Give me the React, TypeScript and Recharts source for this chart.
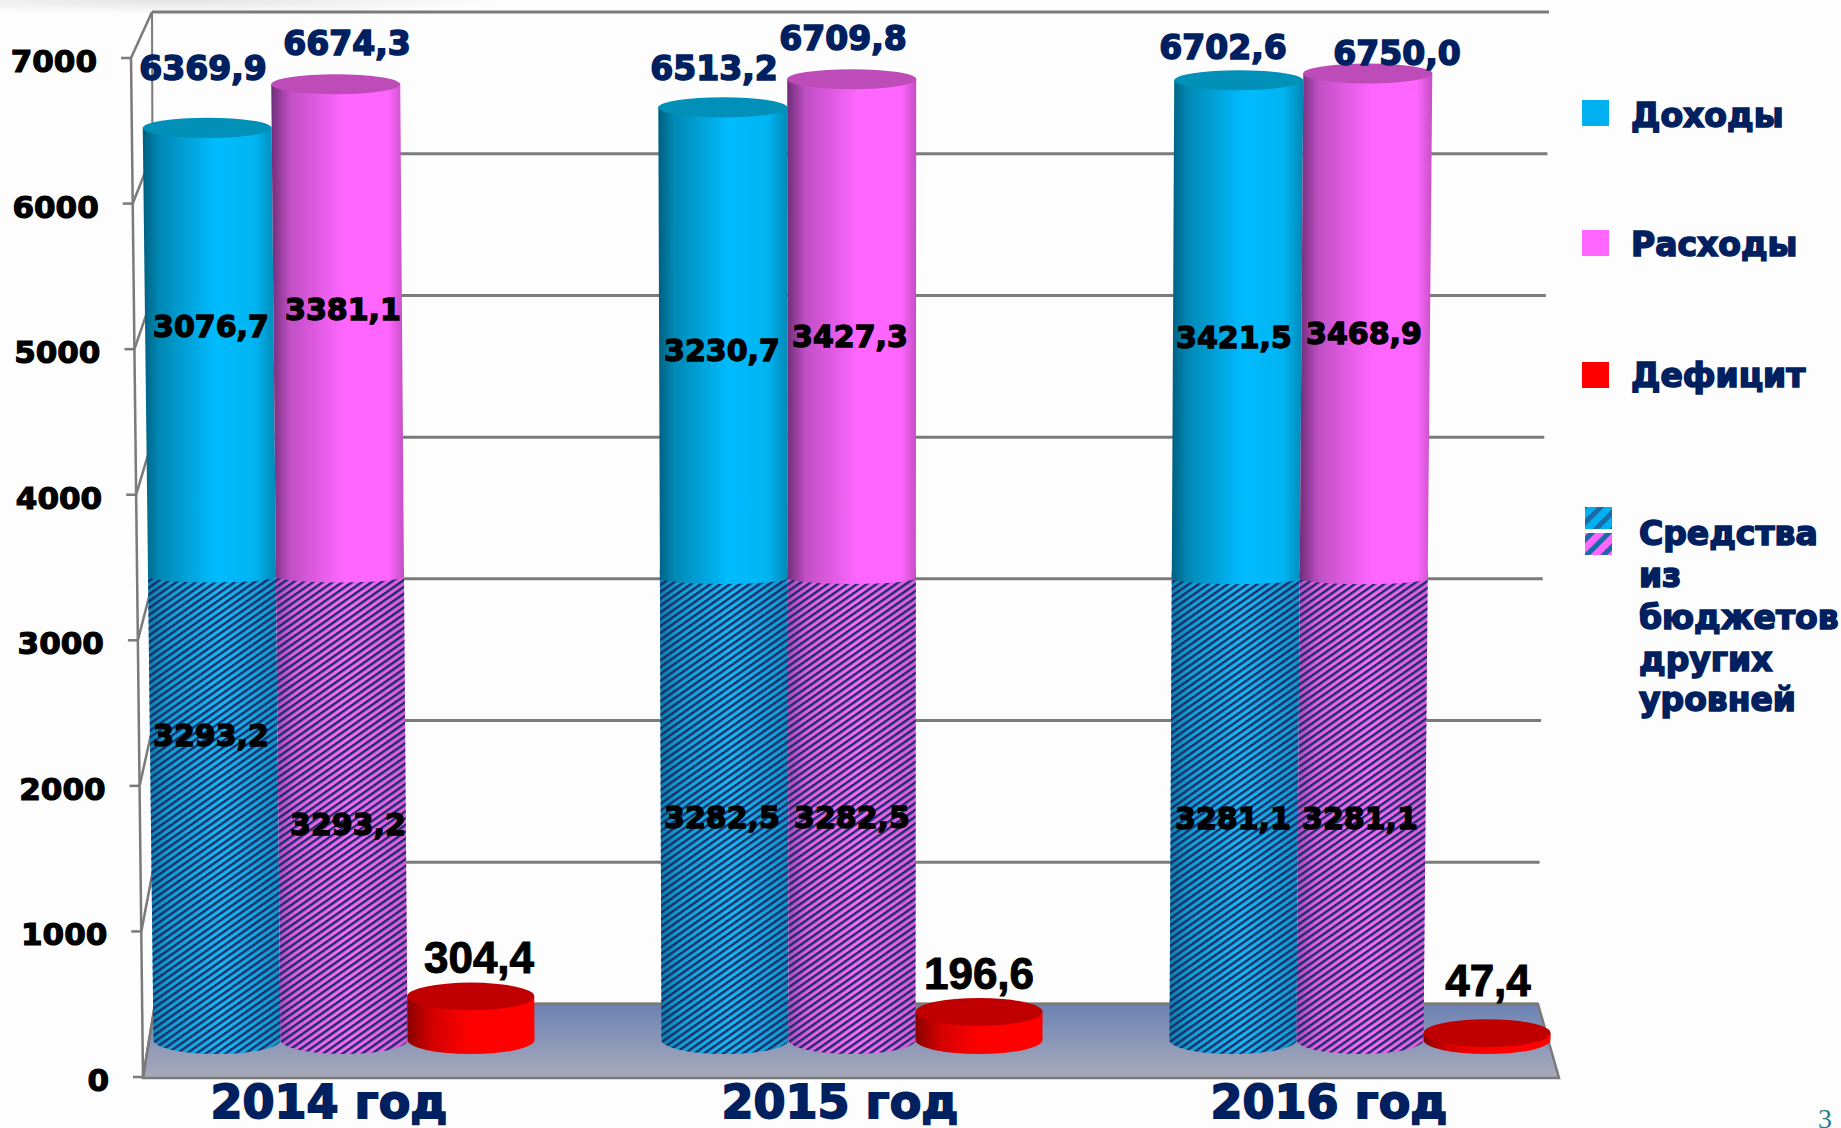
import { Bar, BarChart, LabelList, XAxis, YAxis } from 'recharts';

const years = ['2014 год', '2015 год', '2016 год'];
const incomeTransfers = [3293.2, 3282.5, 3281.1];
const incomeOwn = [3076.7, 3230.7, 3421.5];
const incomeTotal = [6369.9, 6513.2, 6702.6];
const expenseTransfers = [3293.2, 3282.5, 3281.1];
const expenseOwn = [3381.1, 3427.3, 3468.9];
const expenseTotal = [6674.3, 6709.8, 6750.0];
const deficit = [304.4, 196.6, 47.4];
const axisTicks = [0, 1000, 2000, 3000, 4000, 5000, 6000, 7000];

const legendItems = ['Доходы', 'Расходы', 'Дефицит'];
const legendNote = ['Средства', 'из', 'бюджетов', 'других', 'уровней'];

const data = years.map((year, i) => ({
  year,
  incomeTransfers: incomeTransfers[i],
  incomeOwn: incomeOwn[i],
  incomeTotal: incomeTotal[i],
  expenseTransfers: expenseTransfers[i],
  expenseOwn: expenseOwn[i],
  expenseTotal: expenseTotal[i],
  deficit: deficit[i],
}));

const NAVY = '#002060';
const LINE = '#7a7a7a';
const HEAVY = 'DejaVu Sans';

// the picture is a fake 3D one: the front axis, back wall and bars each have their own scale
const BASE_Y = 1040;
const frontX = (v: number) => 143 - (12 * v) / 7000;
const frontY = (v: number) => 1077 - (1019 * v) / 7000;
const backY = (v: number) => 1004 - (992 * v) / 7000;
const backLeft = (v: number) => 155 - (3 * v) / 7000;
const backRight = (v: number) => 1538 + (11 * v) / 7000;

const persp = (x: number, y: number) => 870 + (x - 870) * (1 + 1.645e-5 * (BASE_Y - y));
const capRy = (y: number) => 14 - (4 * (BASE_Y - y)) / 960;

const Cylinder = ({ x, y, width, height, body, cap, hatch, upper }: any) => {
  const top = y;
  // upper sections hang over the hatched part with a shallow curve
  const bottom = y + height + (upper ? 8 : 0);
  const ry = upper ? 6 : capRy(bottom);
  const xl = persp(x, top);
  const xr = persp(x + width, top);
  const bl = persp(x, bottom);
  const br = persp(x + width, bottom);
  const d = `M${xl},${top} L${xr},${top} L${br},${bottom} A${(br - bl) / 2},${ry} 0 0 1 ${bl},${bottom} Z`;
  return (
    <g>
      <path d={d} fill={`url(#${body})`} />
      {hatch && <path d={d} fill="url(#hatch)" />}
      {cap && <ellipse cx={(xl + xr) / 2} cy={top} rx={(xr - xl) / 2} ry={capRy(top)} fill={cap} />}
    </g>
  );
};

const fmt = (v: number) => v.toFixed(1).replace('.', ',');

const makeLabel =
  (shifts: number[][], font: any) =>
  ({ x, y, width, height, value, index }: any) => {
    const [dx, dy] = shifts[index];
    const anchorY = font.onTop ? y : y + height / 2;
    return (
      <text
        x={x + width / 2 + dx}
        y={anchorY + dy}
        textAnchor="middle"
        dominantBaseline="central"
        fontFamily={font.family}
        fontWeight="bold"
        fontSize={font.size}
        fill={font.color}
        stroke={font.color}
        strokeWidth={font.stroke}
      >
        {fmt(value)}
      </text>
    );
  };

const midFont = { family: HEAVY, size: 30, color: '#000', stroke: 1.4 };
const totalFont = { family: HEAVY, size: 33, color: NAVY, stroke: 1.6, onTop: true };
const deficitFont = { family: 'Liberation Sans', size: 44, color: '#000', stroke: 1, onTop: true };

const FrontTick = ({ y, payload }: any) => {
  const v = payload.value;
  const xf = frontX(v);
  return (
    <g>
      <line x1={xf - 10} y1={y} x2={xf} y2={y} stroke={LINE} strokeWidth={2.5} />
      <text
        x={xf - 34}
        y={y + 3}
        textAnchor="end"
        dominantBaseline="central"
        fontFamily={HEAVY}
        fontWeight="bold"
        fontSize={31}
        fill="#000"
        stroke="#000"
        strokeWidth={1.2}
      >
        {v}
      </text>
    </g>
  );
};

const yearCenters = [329, 840, 1329];
const YearTick = ({ index, payload }: any) => (
  <text
    x={yearCenters[index]}
    y={1102}
    textAnchor="middle"
    dominantBaseline="central"
    fontFamily={HEAVY}
    fontWeight="bold"
    fontSize={46}
    fill={NAVY}
    stroke={NAVY}
    strokeWidth={1.8}
  >
    {payload.value}
  </text>
);

const Stops = ({ id, stops }: { id: string; stops: [number, string][] }) => (
  <linearGradient id={id} x1="0" y1="0" x2="1" y2="0">
    {stops.map(([o, c]) => (
      <stop key={o} offset={o} stopColor={c} />
    ))}
  </linearGradient>
);

const Defs = () => (
  <defs>
    <Stops id="blueBody" stops={[[0, '#005f80'], [0.12, '#0088b4'], [0.55, '#00bcff'], [0.85, '#00b4f0'], [1, '#0088b4']]} />
    <Stops id="pinkBody" stops={[[0, '#6f2d78'], [0.14, '#c04fc4'], [0.55, '#ff66ff'], [0.88, '#ff66ff'], [1, '#c44fc4']]} />
    <Stops id="blueHatched" stops={[[0, '#0a7fa8'], [0.15, '#10a0d0'], [0.55, '#19b8f0'], [1, '#1098cc']]} />
    <Stops id="pinkHatched" stops={[[0, '#b04cc0'], [0.15, '#e060e0'], [0.55, '#f56cf5'], [1, '#d85cd8']]} />
    <Stops id="redBody" stops={[[0, '#8a0000'], [0.2, '#d40000'], [0.5, '#ff0000'], [1, '#ff0000']]} />
    <pattern id="hatch" width="5.6" height="5.6" patternUnits="userSpaceOnUse" patternTransform="rotate(-35)">
      <rect width="5.6" height="2.4" fill="#1a2c6c" />
    </pattern>
    <pattern id="hatchBig" width="12" height="12" patternUnits="userSpaceOnUse" patternTransform="rotate(-45)">
      <rect width="12" height="5" fill="#1a6aa8" />
    </pattern>
    <linearGradient id="floor" x1="0" y1="0" x2="0" y2="1">
      <stop offset="0" stopColor="#6c82b4" />
      <stop offset="1" stopColor="#a8aaba" />
    </linearGradient>
    <radialGradient id="topGlow">
      <stop offset="0" stopColor="#d8d8d8" stopOpacity="0.7" />
      <stop offset="1" stopColor="#d8d8d8" stopOpacity="0" />
    </radialGradient>
  </defs>
);

const legendY = [100, 230, 362];
const legendBase = [127, 256, 387];
const legendColors = ['#00b0f0', '#ff66ff', '#ff0000'];
const noteBase = [545, 587, 629, 671, 711];

const Legend = () => (
  <g fontFamily={HEAVY} fontWeight="bold" fill={NAVY}>
    {legendItems.map((name, i) => (
      <g key={name}>
        <rect x={1582} y={legendY[i]} width={27} height={26} fill={legendColors[i]} />
        <text x={1631} y={legendBase[i]} fontSize={33} stroke={NAVY} strokeWidth={1.6}>
          {name}
        </text>
      </g>
    ))}
    <rect x={1585} y={507} width={27} height={22} fill="#00b0f0" />
    <rect x={1585} y={507} width={27} height={22} fill="url(#hatchBig)" />
    <rect x={1585} y={533} width={27} height={22} fill="#ff66ff" />
    <rect x={1585} y={533} width={27} height={22} fill="url(#hatchBig)" />
    {legendNote.map((line, i) => (
      <text key={line} x={1639} y={noteBase[i]} fontSize={33} stroke={NAVY} strokeWidth={1.6}>
        {line}
      </text>
    ))}
  </g>
);

// walls and floor sit under the bars, axis components would draw over them
const Backdrop = () => (
  <g>
    <ellipse cx={170} cy={0} rx={340} ry={14} fill="url(#topGlow)" />
    <polygon points="155,1004 1538,1004 1559,1078 143,1078" fill="url(#floor)" stroke={LINE} strokeWidth={2.5} />
    <line x1={frontX(7000)} y1={58} x2={frontX(0)} y2={1078} stroke={LINE} strokeWidth={2.5} />
    <line x1={backLeft(7000)} y1={backY(7000)} x2={backLeft(0)} y2={backY(0)} stroke={LINE} strokeWidth={2} />
    {axisTicks.map((v) => (
      <g key={v}>
        <line x1={backLeft(v)} y1={backY(v)} x2={backRight(v)} y2={backY(v)} stroke={LINE} strokeWidth={3} />
        <line x1={frontX(v)} y1={frontY(v)} x2={backLeft(v)} y2={backY(v)} stroke={LINE} strokeWidth={2.5} />
      </g>
    ))}
  </g>
);

export default function App() {
  return (
    <div style={{ position: 'absolute', left: 0, top: 0, width: 1841, height: 1128, background: '#fdfdfd', overflow: 'hidden' }}>
      <BarChart
        width={1841}
        height={1128}
        data={data}
        margin={{ top: 11, right: 227, left: 0, bottom: 0 }}
        barCategoryGap="12.5%"
        barGap={0}
      >
        <Defs />
        <Backdrop />
        <XAxis dataKey="year" height={51} axisLine={false} tickLine={false} interval={0} tick={<YearTick />} />
        <YAxis
          yAxisId="front"
          width={90}
          domain={[0, 7323]}
          allowDataOverflow
          ticks={axisTicks}
          interval={0}
          axisLine={false}
          tickLine={false}
          tick={<FrontTick />}
        />
        <YAxis yAxisId="bars" hide domain={[-258.4, 7186]} allowDataOverflow />
        <Bar
          yAxisId="bars"
          dataKey="incomeTransfers"
          stackId="income"
          isAnimationActive={false}
          shape={(p: any) => <Cylinder {...p} body="blueHatched" hatch />}
        >
          <LabelList
            dataKey="incomeTransfers"
            content={makeLabel([[-6, -69], [-3, 13], [0, 13]], midFont)}
          />
        </Bar>
        <Bar
          yAxisId="bars"
          dataKey="incomeOwn"
          stackId="income"
          isAnimationActive={false}
          shape={(p: any) => <Cylinder {...p} body="blueBody" cap="#0090b8" upper />}
        >
          <LabelList dataKey="incomeOwn" content={makeLabel([[-6, -22], [-3, 12], [1, 12]], midFont)} />
          <LabelList dataKey="incomeTotal" content={makeLabel([[-14, -59], [-11, -39], [-10, -33]], totalFont)} />
        </Bar>
        <Bar
          yAxisId="bars"
          dataKey="expenseTransfers"
          stackId="expense"
          isAnimationActive={false}
          shape={(p: any) => <Cylinder {...p} body="pinkHatched" hatch />}
        >
          <LabelList
            dataKey="expenseTransfers"
            content={makeLabel([[4, 20], [0, 13], [0, 13]], midFont)}
          />
        </Bar>
        <Bar
          yAxisId="bars"
          dataKey="expenseOwn"
          stackId="expense"
          isAnimationActive={false}
          shape={(p: any) => <Cylinder {...p} body="pinkBody" cap="#bd4bb8" upper />}
        >
          <LabelList dataKey="expenseOwn" content={makeLabel([[-1, -17], [-2, 12], [4, 12]], midFont)} />
          <LabelList dataKey="expenseTotal" content={makeLabel([[3, -41], [-9, -41], [37, -20]], totalFont)} />
        </Bar>
        <Bar
          yAxisId="bars"
          dataKey="deficit"
          stackId="deficit"
          isAnimationActive={false}
          shape={(p: any) => <Cylinder {...p} body="redBody" cap="#c00000" />}
        >
          <LabelList dataKey="deficit" content={makeLabel([[8, -39], [0, -38], [1, -53]], deficitFont)} />
        </Bar>
        <Legend />
        <text x={1818} y={1128} fontFamily="Liberation Serif" fontSize={28} fill="#2a7d8c">
          3
        </text>
      </BarChart>
    </div>
  );
}
